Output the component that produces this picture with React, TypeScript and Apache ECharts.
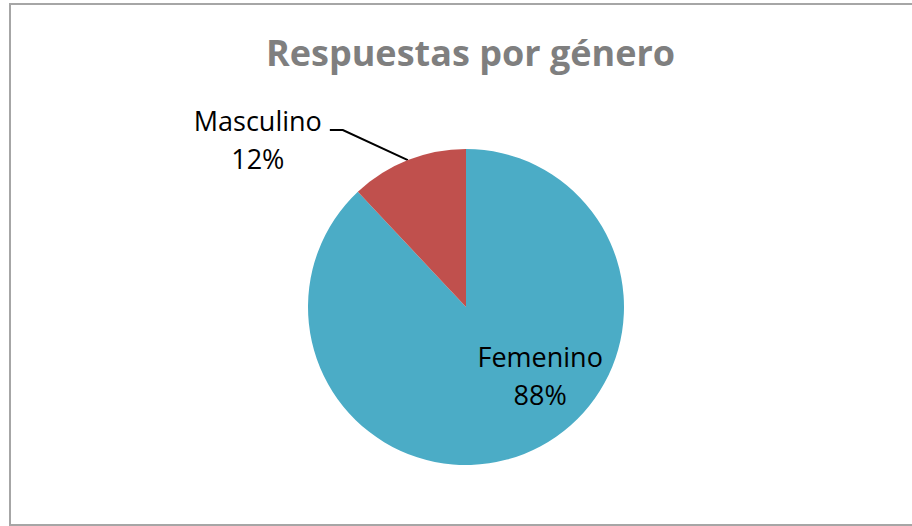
import React, { useEffect, useRef } from "react";
import * as echarts from "echarts";

const title = "Respuestas por género";
const categories = ["Femenino", "Masculino"];
const values = [88, 12];
const colors = ["#4BACC6", "#C0504D"];

export default function App() {
  const ref = useRef<HTMLDivElement>(null);
  useEffect(() => {
    document.body.style.margin = "0";
    const chart = echarts.init(ref.current!, null, { renderer: "svg" });
    const font = "'Open Sans', 'Noto Sans', sans-serif";
    chart.setOption({
      animation: false,
      backgroundColor: "#ffffff",
      title: {
        text: title,
        left: 261,
        top: 29,
        textStyle: { fontFamily: font, fontSize: 36, fontWeight: "bold", color: "#7F7F7F" },
      },
      graphic: [
        {
          type: "rect",
          shape: { x: 10, y: 4, width: 920, height: 521 },
          style: { fill: "none", stroke: "#A6A6A6", lineWidth: 2 },
          silent: true,
        },
      ],
      series: [
        {
          type: "pie",
          center: [466, 307],
          radius: [0, 158],
          startAngle: 90,
          clockwise: true,
          data: categories.map((c, i) => ({
            name: c,
            value: values[i],
            itemStyle: { color: colors[i] },
            label: { position: i === 0 ? "inside" : "outside" },
          })),
          label: {
            formatter: (p: any) => `${p.name}\n${Math.round(p.percent)}%`,
            fontFamily: font,
            fontSize: 27,
            lineHeight: 38,
            color: "#000000",
            align: "center",
          },
          labelLine: {
            show: true,
            lineStyle: { color: "#000000", width: 2 },
          },
          labelLayout: (params: any) => {
            if (params.dataIndex === 0) {
              return { dx: 44, dy: -8 };
            }
            const pts = params.labelLinePoints;
            if (!pts) return {};
            const s = pts[0];
            const mid = [s[0] - 65, s[1] - 30];
            const end = [s[0] - 78, s[1] - 30];
            const w = params.labelRect ? params.labelRect.width : 127;
            return {
              x: end[0] - 8 - w / 2,
              y: end[1] + 9,
              align: "center",
              verticalAlign: "middle",
              labelLinePoints: [s, mid, end],
            };
          },
        },
      ],
    });
    return () => chart.dispose();
  }, []);
  return (
    <div
      ref={ref}
      style={{ position: "fixed", left: 0, top: 0, width: 912, height: 526 }}
    />
  );
}
